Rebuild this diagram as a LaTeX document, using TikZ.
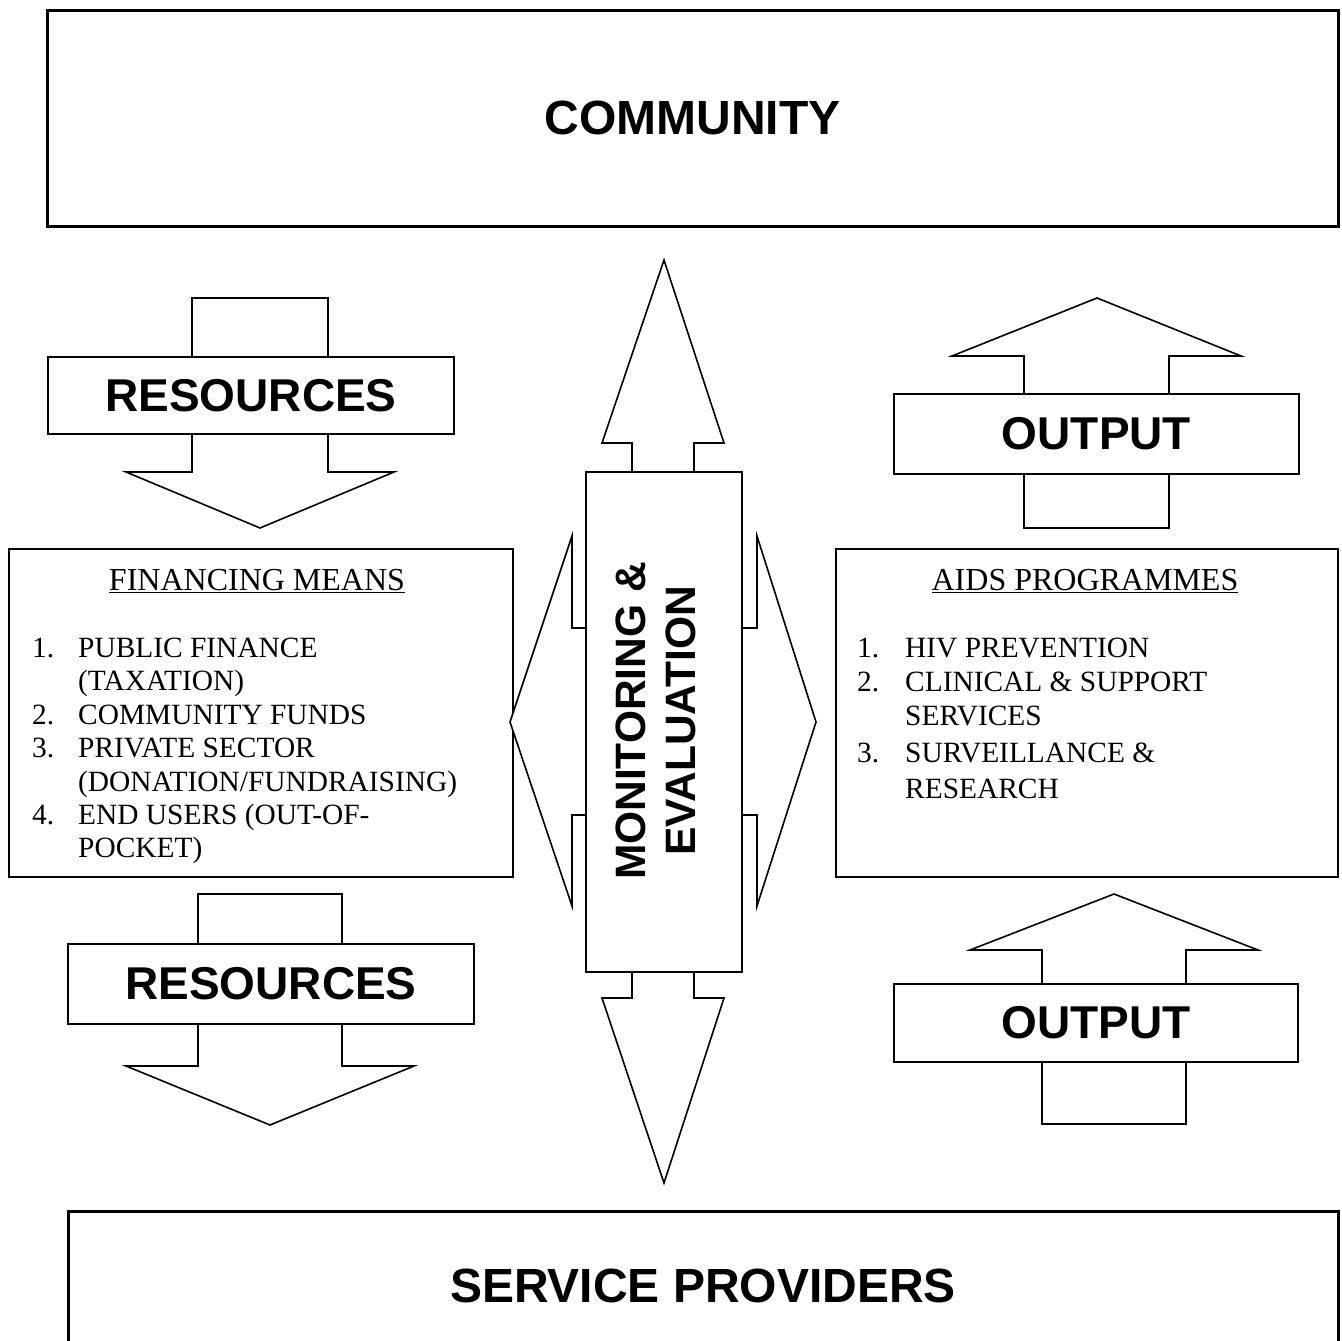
\documentclass[tikz,border=0pt]{standalone}
\usepackage{fontspec}
\setmainfont{Liberation Serif}
\newfontfamily\hv{Liberation Sans}
\tikzset{
  shp/.style={draw, line width=1.6pt, line join=miter, fill=white},
  lbl/.style={draw, line width=1.6pt, fill=white, inner sep=0pt,
    font=\hv\bfseries\fontsize{46}{52}\selectfont},
  big/.style={draw, line width=3pt, inner sep=0pt,
    font=\hv\bfseries\fontsize{48}{54}\selectfont},
  listbox/.style={draw, line width=1.6pt, inner sep=0pt},
  itm/.style={inner sep=0pt, anchor=base west, font=\fontsize{29.4}{33}\selectfont},
  ttl/.style={inner sep=0pt, anchor=base, font=\fontsize{32}{36}\selectfont},
}
\begin{document}
\begin{tikzpicture}[x=1pt, y=-1pt]
\path[use as bounding box, fill=white] (0,0) rectangle (1342,1341);
\clip (0,0) rectangle (1342,1341);

% big boxes
\node[big, minimum width=1291pt, minimum height=216pt] (community) at (692.5,118) {COMMUNITY};
\node[big, minimum width=1270pt, minimum height=149pt] (providers) at (703,1285.5) {SERVICE PROVIDERS};

% list boxes
\node[listbox, minimum width=504pt, minimum height=328pt] (fin) at (261,713) {};
\node[listbox, minimum width=502pt, minimum height=328pt] (aids) at (1087,713) {};

% financing text
\node[ttl] (fint) at (257,590) {\underline{FINANCING MEANS}};
\node[itm] (fn1) at (32,657) {1.};
\node[itm] (fa1) at (78,657) {PUBLIC FINANCE};
\node[itm] (fa2) at (78,690) {(TAXATION)};
\node[itm] (fn2) at (32,724) {2.};
\node[itm] (fa3) at (78,724) {COMMUNITY FUNDS};
\node[itm] (fn3) at (32,757) {3.};
\node[itm] (fa4) at (78,757) {PRIVATE SECTOR};
\node[itm] (fa5) at (78,791) {(DONATION/FUNDRAISING)};
\node[itm] (fn4) at (32,824) {4.};
\node[itm] (fa6) at (78,824) {END USERS (OUT-OF-};
\node[itm] (fa7) at (78,857) {POCKET)};

% aids text
\node[ttl] (aidt) at (1085,590) {\underline{AIDS PROGRAMMES}};
\node[itm] (an1) at (857,657) {1.};
\node[itm] (aa1) at (905,657) {HIV PREVENTION};
\node[itm] (an2) at (857,691) {2.};
\node[itm] (aa2) at (905,691) {CLINICAL \& SUPPORT};
\node[itm] (aa3) at (905,725) {SERVICES};
\node[itm] (an3) at (857,762) {3.};
\node[itm] (aa4) at (905,762) {SURVEILLANCE \&};
\node[itm] (aa5) at (905,798) {RESEARCH};

% resources arrows (down)
\draw[shp] (192,298) -- (328,298) -- (328,472) -- (394,472) -- (260,528) -- (126,472) -- (192,472) -- cycle;
\node[lbl, minimum width=406pt, minimum height=77pt] (res1) at (251,395.5) {RESOURCES};
\draw[shp] (198,894) -- (342,894) -- (342,1066) -- (414,1066) -- (270,1125) -- (126,1066) -- (198,1066) -- cycle;
\node[lbl, minimum width=406pt, minimum height=80pt] (res2) at (271,984) {RESOURCES};

% output arrows (up)
\draw[shp] (1024,528) -- (1169,528) -- (1169,356) -- (1241,356) -- (1097,298) -- (952,356) -- (1024,356) -- cycle;
\node[lbl, minimum width=405pt, minimum height=80pt] (out1) at (1096.5,434) {OUTPUT};
\draw[shp] (1042,1124) -- (1186,1124) -- (1186,950) -- (1258,950) -- (1114,894) -- (970,950) -- (1042,950) -- cycle;
\node[lbl, minimum width=404pt, minimum height=78pt] (out2) at (1096,1023) {OUTPUT};

% monitoring & evaluation four-way arrow
\draw[shp] (632,500) -- (632,443) -- (602,443) -- (664,260) -- (724,443) -- (694,443) -- (694,500) -- cycle;
\draw[shp] (632,940) -- (632,998) -- (602,998) -- (664,1183) -- (724,998) -- (694,998) -- (694,940) -- cycle;
\draw[shp] (600,628) -- (572,628) -- (572,536) -- (510,722) -- (572,906) -- (572,815) -- (600,815) -- cycle;
\draw[shp] (728,628) -- (757,628) -- (757,536) -- (816,722) -- (757,906) -- (757,815) -- (728,815) -- cycle;
\node[draw, line width=1.6pt, fill=white, minimum width=156pt, minimum height=500pt, inner sep=0pt] (me) at (664,722) {};
\node[rotate=90, align=center, inner sep=0pt,
  font=\hv\bfseries\fontsize{42.5}{50}\selectfont] (metext) at (656,721) {MONITORING \&\\EVALUATION};
\end{tikzpicture}
\end{document}
